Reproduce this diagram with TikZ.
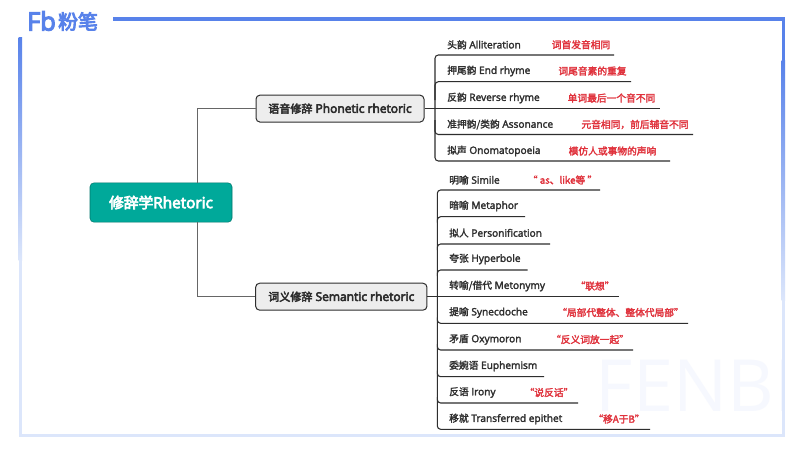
\documentclass[tikz,border=0pt]{standalone}
\usepackage{fontspec}
\setmainfont{Open Sans}
\newfontfamily\lat[FakeBold=2.5]{Open Sans}
\newfontfamily\latb[FakeBold=4.5]{Open Sans}
\newfontfamily\cjk[FakeBold=2,Scale=0.96]{Noto Sans CJK SC}
\newfontfamily\cjkn[FakeBold=2.5]{Noto Sans CJK SC}
\newfontfamily\cjkm[FakeBold=4,Scale=0.92]{Noto Sans CJK SC}
\newfontfamily\cjkb[FakeBold=4.5,Scale=0.96]{Noto Sans CJK SC}
\definecolor{frameblue}{HTML}{5882EA}
\definecolor{framelight}{HTML}{DCE6FB}
\definecolor{tealbox}{HTML}{00A99A}
\definecolor{ink}{HTML}{2E2E2E}
\definecolor{redtxt}{HTML}{E0323C}
\definecolor{wm}{HTML}{F6F8FE}
\tikzset{
  px/.style={x=0.75pt,y=-0.75pt},
  rootbox/.style={draw=tealbox!70!black,fill=tealbox,rounded corners=3pt,text=white,font=\fontsize{11.5pt}{13pt}\latb,minimum width=106.5pt,minimum height=29.5pt,inner sep=0pt},
  midbox/.style={draw=ink,line width=.75pt,fill=black!7,rounded corners=3pt,text=ink,font=\fontsize{9pt}{11pt}\latb,minimum height=20.2pt,inner sep=0pt},
  leaf/.style={anchor=west,inner sep=0pt,text=ink,font=\fontsize{7.6pt}{9pt}\lat},
  note/.style={inner sep=0pt,text=redtxt,font=\fontsize{7.3pt}{9pt}\cjkn},
  trunk/.style={draw=black!60,line width=.6pt},
  twig/.style={draw=ink,line width=.8pt,rounded corners=2.5pt},
}
\begin{document}
\begin{tikzpicture}[px]
\useasboundingbox[fill=white] (0,0) rectangle (800,450);
% watermark
\begin{scope}
\clip (22,20) rectangle (781.5,433.5);
\node[inner sep=0pt,text=wm,font=\fontsize{54pt}{54pt}\selectfont] (mark) at (695,386) {FENBI};
\end{scope}
% frame
\fill[framelight] (18.5,433.5) rectangle (785,436.5);
\fill[frameblue] (781.5,17) rectangle (785,60);
\fill[top color=frameblue,bottom color=framelight] (781.5,60) rectangle (785,300);
\fill[framelight] (781.5,300) rectangle (785,436.5);
\fill[top color=frameblue,bottom color=framelight] (18.5,37) rectangle (22,260);
\fill[framelight] (18.5,260) rectangle (22,436.5);
\fill[frameblue] (113,17) rectangle (785,20.5);
% logo
\node[inner sep=0pt,text=frameblue,font=\fontsize{19pt}{19pt}\latb] (fb) at (41.5,21) {Fb};
\node[inner sep=0pt,text=frameblue,font=\fontsize{15.5pt}{16pt}\cjkb] (brand) at (78,21.5) {粉笔};
% root and branches
\node[rootbox] (root) at (161,202.5) {{\cjkb 修辞学}Rhetoric};
\node[midbox,minimum width=126pt] (pho) at (340,108.6) {{\cjkm 语音修辞} Phonetic rhetoric};
\node[midbox,minimum width=128.5pt] (sem) at (341.3,296.7) {{\cjkm 词义修辞} Semantic rhetoric};
\draw[trunk] (root.north -| 197,0) |- (pho.west);
\draw[trunk] (root.south -| 197,0) |- (sem.west);
% phonetic
\draw[twig,rounded corners=0pt] (pho.east) -- (660,108.6);
\draw[twig] (614,55) -- (435,55) -- (435,161) -- (670,161);
\draw[twig] (631,81.7) -- (435,81.7) -- (435,100);
\draw[twig] (693,134.5) -- (435,134.5) -- (435,120);
\foreach \y/\t/\cx/\n [count=\i] in {
 44.7/{{\cjk 头韵} Alliteration}/581/词首发音相同,
 71/{{\cjk 押尾韵} End rhyme}/592.5/词尾音素的重复,
 98/{{\cjk 反韵} Reverse rhyme}/611.5/单词最后一个音不同,
 124.5/{{\cjk 准押韵/类韵} Assonance}/635/元音相同，前后辅音不同,
 151/{{\cjk 拟声} Onomatopoeia}/612.5/模仿人或事物的声响}{
  \node[leaf] (pl\i) at (447,\y) {\t};
  \node[note] (pn\i) at (\cx,\y) {\n};
}
% semantic
\draw[twig,rounded corners=0pt] (sem.east) -- (619,296.7);
\draw[twig] (600,190) -- (437.3,190) -- (437.3,429.3) -- (650,429.3);
\foreach \yy/\xe in {216.7/525,244/550,270/527.5}{
  \draw[twig] (\xe,\yy) -- (437.3,\yy) -- (437.3,\yy+6);
}
\foreach \yy/\xe in {323.3/688,350/633,376.7/544,403/578}{
  \draw[twig] (\xe,\yy) -- (437.3,\yy) -- (437.3,\yy-6);
}
\foreach \y/\t [count=\i] in {
 180/{{\cjk 明喻} Simile},
 206/{{\cjk 暗喻} Metaphor},
 233/{{\cjk 拟人} Personification},
 259/{{\cjk 夸张} Hyperbole},
 286/{{\cjk 转喻/借代} Metonymy},
 312.5/{{\cjk 提喻} Synecdoche},
 339.5/{{\cjk 矛盾} Oxymoron},
 366/{{\cjk 委婉语} Euphemism},
 392.5/{{\cjk 反语} Irony},
 419/{{\cjk 移就} Transferred epithet}}{
  \node[leaf] (sl\i) at (449,\y) {\t};
}
\foreach \y/\cx/\n [count=\i] in {
 180/562.5/{“ as、like等 ”},
 286/595/{“联想”},
 312.5/620.5/{“局部代整体、整体代局部”},
 339.5/590/{“反义词放一起”},
 392.5/549/{“说反话”},
 419/619/{“移A于B”}}{
  \node[note] (sn\i) at (\cx,\y) {\n};
}
\end{tikzpicture}
\end{document}
